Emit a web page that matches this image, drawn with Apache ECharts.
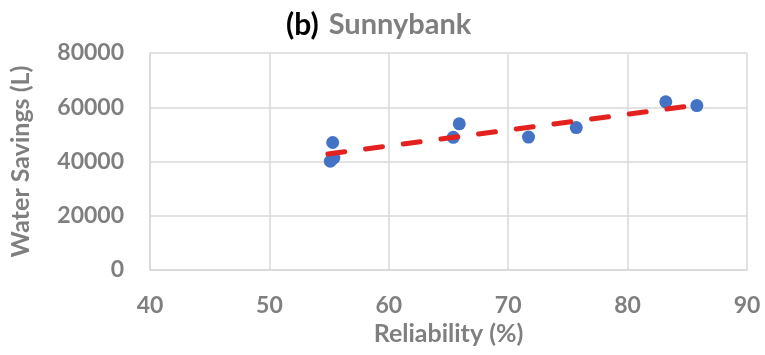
<!DOCTYPE html>
<html>
<head>
<meta charset="utf-8">
<script src="https://cdn.jsdelivr.net/npm/echarts@6/dist/echarts.min.js"></script>
<style>
  html, body { margin: 0; padding: 0; background: #ffffff; }
  #chart { width: 765px; height: 355px; }
</style>
</head>
<body>
<div id="chart"></div>
<script>
// Data
var reliability = [55.1, 55.4, 55.3, 65.4, 65.9, 71.7, 75.7, 83.2, 85.8];
var waterSavings = [40100, 41300, 47000, 48900, 53900, 49000, 52500, 62000, 60600];
var trendX = [54.9, 85.9];
var trendY = [42800, 60850];
var xTicks = [40, 50, 60, 70, 80, 90];
var yTicks = [0, 20000, 40000, 60000, 80000];

var FONT = 'Lato';
var GRAY = '#7f7f7f';
var GRID = '#d9d9d9';

var points = reliability.map(function (x, i) { return [x, waterSavings[i]]; });
var trend = trendX.map(function (x, i) { return [x, trendY[i]]; });

var chart = echarts.init(document.getElementById('chart'), null, { renderer: 'canvas' });
chart.setOption({
  animation: false,
  backgroundColor: '#ffffff',
  title: {
    text: '{a|(b)}{s| }{b|Sunnybank}',
    left: 281,
    top: 5,
    textStyle: {
      rich: {
        a: { fontFamily: FONT, fontWeight: 'bold', fontSize: 30, color: '#000000' },
        s: { fontFamily: FONT, fontSize: 30, width: 10 },
        b: { fontFamily: FONT, fontWeight: 'bold', fontSize: 29, color: GRAY }
      }
    }
  },
  grid: { left: 149, right: 18, top: 53, bottom: 85 },
  xAxis: {
    type: 'value',
    min: xTicks[0],
    max: xTicks[xTicks.length - 1],
    interval: 10,
    name: 'Reliability (%)',
    nameLocation: 'middle',
    nameGap: 50,
    nameTextStyle: { fontFamily: FONT, fontWeight: 'bold', fontSize: 25, color: GRAY },
    axisLine: { show: true, lineStyle: { color: GRID, width: 1.5 } },
    axisTick: { show: false },
    axisLabel: { margin: 24, fontFamily: FONT, fontWeight: 'bold', fontSize: 23, color: GRAY },
    splitLine: { show: true, lineStyle: { color: GRID, width: 1.5 } }
  },
  yAxis: {
    type: 'value',
    min: yTicks[0],
    max: yTicks[yTicks.length - 1],
    interval: 20000,
    name: 'Water Savings (L)',
    nameLocation: 'middle',
    nameGap: 117,
    nameTextStyle: { fontFamily: FONT, fontWeight: 'bold', fontSize: 25, color: GRAY },
    axisLine: { show: true, lineStyle: { color: GRID, width: 1.5 } },
    axisTick: { show: false },
    axisLabel: {
      margin: 26, fontFamily: FONT, fontWeight: 'bold', fontSize: 23, color: GRAY,
      formatter: function (v) { return String(v); }
    },
    splitLine: { show: true, lineStyle: { color: GRID, width: 1.5 } }
  },
  series: [
    {
      type: 'line',
      data: trend,
      symbol: 'none',
      z: 3,
      lineStyle: { color: '#e3211f', width: 5, type: [17, 21], cap: 'round' }
    },
    {
      type: 'scatter',
      data: points,
      symbol: 'circle',
      symbolSize: 13,
      z: 2,
      itemStyle: { color: '#4472c4', opacity: 1 }
    }
  ]
});
</script>
</body>
</html>
